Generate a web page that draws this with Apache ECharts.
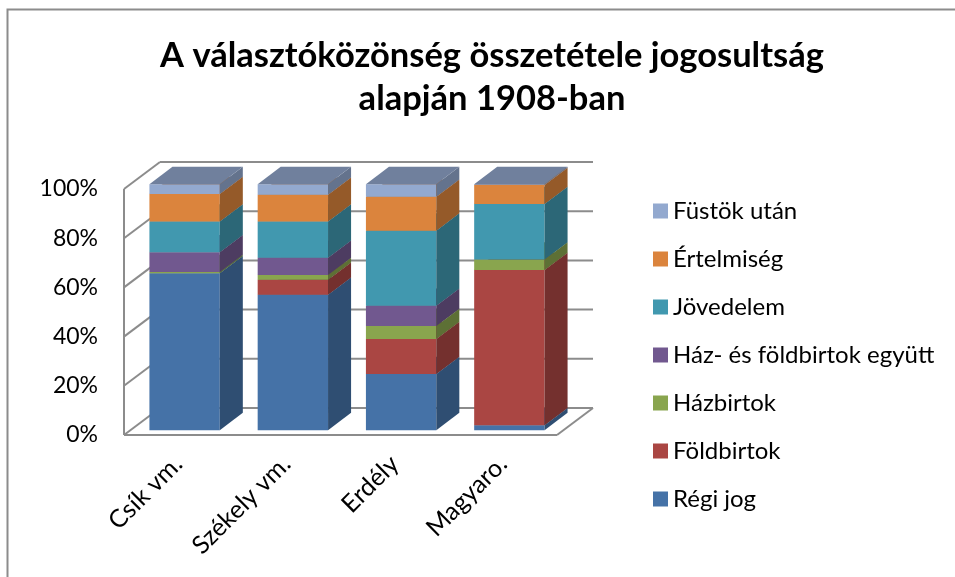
<!DOCTYPE html>
<html>
<head>
<meta charset="utf-8">
<script src="https://cdn.jsdelivr.net/npm/echarts@6/dist/echarts.min.js"></script>
<style>
  html, body { margin: 0; padding: 0; background: #fff; }
  #main { width: 955px; height: 577px; }
</style>
</head>
<body>
<div id="main"></div>
<script>
// kategóriák és értékek (%), az ábráról leolvasva
var categories = ['Csík vm.', 'Székely vm.', 'Erdély', 'Magyaro.'];
var regiJog    = [63.8, 55.0, 22.8, 2.0];
var foldbirtok = [0, 6.1, 14.2, 63.1];
var hazbirtok  = [0.5, 2.0, 5.3, 4.3];
var hazEsFold  = [8.0, 7.0, 8.3, 0];
var jovedelem  = [12.5, 14.7, 30.5, 22.5];
var ertelmiseg = [11.2, 10.9, 13.8, 7.7];
var fustok     = [4.0, 4.3, 5.1, 0.4];
var yTicks     = [0, 20, 40, 60, 80, 100];

var seriesNames = ['Régi jog', 'Földbirtok', 'Házbirtok', 'Ház- és földbirtok együtt',
                   'Jövedelem', 'Értelmiség', 'Füstök után'];
var seriesValues = [regiJog, foldbirtok, hazbirtok, hazEsFold, jovedelem, ertelmiseg, fustok];
var colors = ['#4572A7', '#AA4643', '#89A54E', '#71588F', '#4198AF', '#DB843D', '#93A9CF'];

var FONT = 'Lato';
var DEPTH = [36, -27];      // a padló mélysége (px)
var BAR_FRONT = 0.18, BAR_BACK = 0.82;

function shade(hex, k) {
  var n = parseInt(hex.slice(1), 16);
  var r = Math.round(((n >> 16) & 255) * k), g = Math.round(((n >> 8) & 255) * k), b = Math.round((n & 255) * k);
  return 'rgb(' + r + ',' + g + ',' + b + ')';
}

// halmozás
var base = categories.map(function () { return 0; });
var series = [];

// falak, rácsvonalak
series.push({
  type: 'custom',
  name: 'walls',
  z: 1,
  silent: true,
  data: yTicks.map(function (v) { return [0, v]; }),
  renderItem: function (params, api) {
    var cs = params.coordSys;
    var y = api.coord([0, api.value(1)])[1];
    var gx = cs.x, gw = cs.width;
    var st = { stroke: '#8c8c8c', lineWidth: 2 };
    var ch = [
      { type: 'line', shape: { x1: gx, y1: y, x2: gx + DEPTH[0], y2: y + DEPTH[1] }, style: st },
      { type: 'line', shape: { x1: gx + DEPTH[0], y1: y + DEPTH[1], x2: gx + gw + DEPTH[0], y2: y + DEPTH[1] }, style: st }
    ];
    if (api.value(1) === 0) {
      ch.push({ type: 'line', shape: { x1: gx, y1: y, x2: gx + gw, y2: y }, style: st });
      ch.push({ type: 'line', shape: { x1: gx + gw, y1: y, x2: gx + gw + DEPTH[0], y2: y + DEPTH[1] }, style: st });
      ch.push({ type: 'line', shape: { x1: gx, y1: y, x2: gx, y2: cs.y }, style: st });
    }
    return { type: 'group', children: ch };
  }
});

seriesValues.forEach(function (vals, si) {
  var data = vals.map(function (v, i) {
    var d = [i, base[i], base[i] + v];
    base[i] += v;
    return d;
  });
  var col = colors[si];
  series.push({
    type: 'custom',
    name: seriesNames[si],
    z: 2,
    itemStyle: { color: col },
    data: data,
    renderItem: function (params, api) {
      var start = api.value(1), end = api.value(2);
      if (end - start <= 0) return null;
      var cx = api.coord([api.value(0), 0])[0];
      var yb = api.coord([api.value(0), start])[1];
      var yt = api.coord([api.value(0), end])[1];
      var bw = api.size([1, 0])[0] * 0.65;
      var ox = DEPTH[0] * BAR_FRONT, oy = DEPTH[1] * BAR_FRONT;
      var dx = DEPTH[0] * (BAR_BACK - BAR_FRONT), dy = DEPTH[1] * (BAR_BACK - BAR_FRONT);
      var x0 = cx - bw / 2 + ox, x1 = cx + bw / 2 + ox;
      yb += oy; yt += oy;
      return {
        type: 'group',
        children: [
          { type: 'rect', shape: { x: x0, y: yt, width: bw, height: yb - yt }, style: { fill: col } },
          { type: 'polygon', shape: { points: [[x1, yb], [x1 + dx, yb + dy], [x1 + dx, yt + dy], [x1, yt]] },
            style: { fill: shade(col, 0.68) } },
          { type: 'polygon', shape: { points: [[x0, yt], [x1, yt], [x1 + dx, yt + dy], [x0 + dx, yt + dy]] },
            style: { fill: shade(col, 0.76) } }
        ]
      };
    }
  });
});

var chart = echarts.init(document.getElementById('main'));
chart.setOption({
  animation: false,
  textStyle: { fontFamily: FONT },
  title: {
    text: 'A választóközönség összetétele jogosultság\nalapján 1908-ban',
    left: 487,
    top: 29,
    textAlign: 'center',
    textStyle: { fontFamily: FONT, fontSize: 34.5, fontWeight: 'bold', color: '#000', lineHeight: 43 }
  },
  legend: {
    orient: 'vertical',
    left: 648,
    top: 194,
    itemWidth: 15,
    itemHeight: 15,
    itemGap: 24,
    icon: 'rect',
    data: seriesNames.slice().reverse(),
    textStyle: { fontFamily: FONT, fontSize: 24, color: '#000' }
  },
  grid: { left: 124, top: 189, width: 433, height: 246 },
  xAxis: {
    type: 'category',
    data: categories,
    axisLine: { show: false },
    axisTick: { show: false },
    axisLabel: { rotate: 45, margin: 25, fontSize: 25, color: '#000', fontFamily: FONT }
  },
  yAxis: {
    type: 'value',
    min: 0,
    max: 100,
    interval: 20,
    axisLine: { show: false },
    axisTick: { show: false },
    splitLine: { show: false },
    axisLabel: { formatter: '{value}%', margin: 26, fontSize: 23, color: '#000', fontFamily: FONT }
  },
  graphic: [
    { type: 'rect', silent: true, shape: { x: 7.5, y: 9.5, width: 1000, height: 1000 },
      style: { fill: null, stroke: '#8c8c8c', lineWidth: 2 } }
  ],
  series: series
});
</script>
</body>
</html>
